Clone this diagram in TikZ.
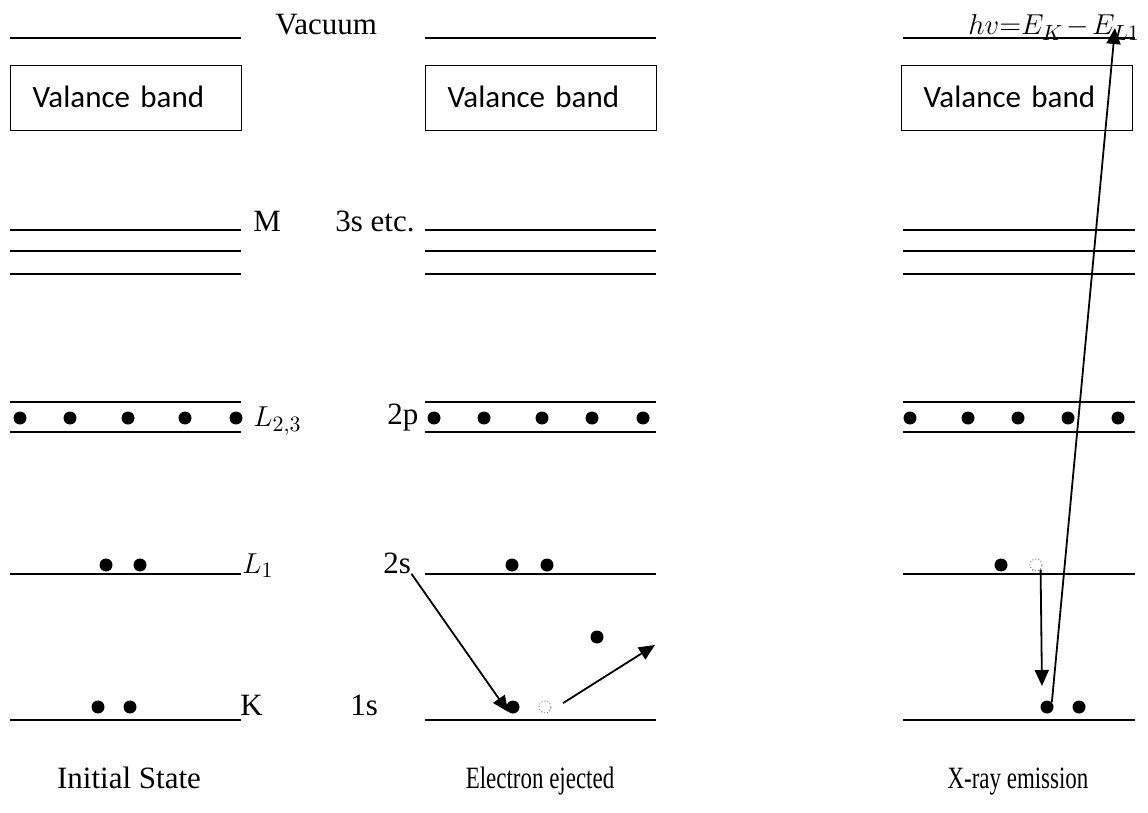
\documentclass[tikz,border=0pt]{standalone}
\usepackage{fontspec}
\setmainfont{Liberation Serif}
\newfontfamily\calibrifont{Carlito}
\usetikzlibrary{arrows.meta,positioning}

\begin{document}
\begin{tikzpicture}[x=0.5pt,y=-0.5pt,>={Triangle[length=8pt,width=7pt]},
  every node/.style={font=\fontsize{15.5}{18}\selectfont},
  level/.style={line width=1pt},
  vbox/.style={draw,line width=0.6pt,anchor=north west,inner xsep=11pt,inner ysep=0pt,text width=93.5pt,align=left,text height=21pt,text depth=11.5pt,font=\calibrifont\fontsize{15.5}{18}\selectfont},
  dot/.style={circle,fill,inner sep=0pt,minimum size=6.5pt},
  hole/.style={circle,draw=gray,densely dotted,line width=0.5pt,inner sep=0pt,minimum size=6pt},
  lbl/.style={anchor=base west,inner sep=0pt},
  arr/.style={->,line width=0.9pt}]
\useasboundingbox (0,0) rectangle (1148,813);

% energy levels of the three columns
\foreach \x/\w in {10/231,425/231,903/232}{
  \draw[level] (\x,38) -- ++(\w,0);
  \foreach \y in {230,251,274,402,432,574,720}
    \draw[level] (\x,\y) -- ++(\w,0);
}

\node[vbox] (vb1) at (10,65) {Valance band};
\node[vbox] (vb2) at (425,65) {Valance band};
\node[vbox] (vb3) at (901,65) {Valance band};

% electrons
\foreach \x [count=\i] in {20,70,128,185,236} \node[dot] (pa\i) at (\x,418) {};
\foreach \x [count=\i] in {434,484,542,592,643} \node[dot] (pb\i) at (\x,418) {};
\foreach \x [count=\i] in {910,968,1018,1068,1118} \node[dot] (pc\i) at (\x,418) {};
\node[dot] (sa1) at (106,565) {};
\node[dot] (sa2) at (140,565) {};
\node[dot] (ka1) at (98,707) {};
\node[dot] (ka2) at (130,707) {};
\node[dot] (sb1) at (512,565) {};
\node[dot] (sb2) at (547,565) {};
\node[dot] (free) at (597,637) {};
\node[dot] (kb1) at (513,707) {};
\node[hole] (holeb) at (545,707) {};
\node[dot] (sc1) at (1001,565) {};
\node[hole] (holec) at (1036,565) {};
\node[dot] (kc1) at (1047,707) {};
\node[dot] (kc2) at (1079,707) {};

% labels
\node[lbl] (vac) at (275,35) {Vacuum};
\node[lbl] (lblM) at (253,232) {M};
\node[lbl] (lbl3s) at (335,232) {3s etc.};
\node[lbl] (lblL23) at (253,427) {$L_{2,3}$};
\node[lbl] (lbl2p) at (387,424) {2p};
\node[lbl] (lblL1) at (242,573) {$L_1$};
\node[lbl] (lbl2s) at (383,573) {2s};
\node[lbl] (lblK) at (240,715) {K};
\node[lbl] (lbl1s) at (350,715) {1s};
\node[lbl] (hv) at (968,35) {$hv{=}E_K\mkern-2mu-\mkern-2mu E_{L1}$};

\node[anchor=base] (init) at (129,788) {Initial State};
\node[anchor=base] (eject) at (540,788) {\scalebox{0.74}[1]{Electron ejected}};
\node[anchor=base] (xray) at (1018,788) {\scalebox{0.74}[1]{X-ray emission}};

% transitions
\coordinate (ejEnd) at (655,645);
\coordinate (dropEnd) at (1042,686);
\coordinate (xrayEnd) at (1115,28);
\draw[arr] (lbl2s.south east) -- (kb1.south west);
\draw[arr,shorten <=8pt] (holeb.south east) -- (ejEnd);
\draw[arr] (holec.south east) -- (dropEnd);
\draw[arr] (kc1.north east) -- (xrayEnd);
\end{tikzpicture}
\end{document}
